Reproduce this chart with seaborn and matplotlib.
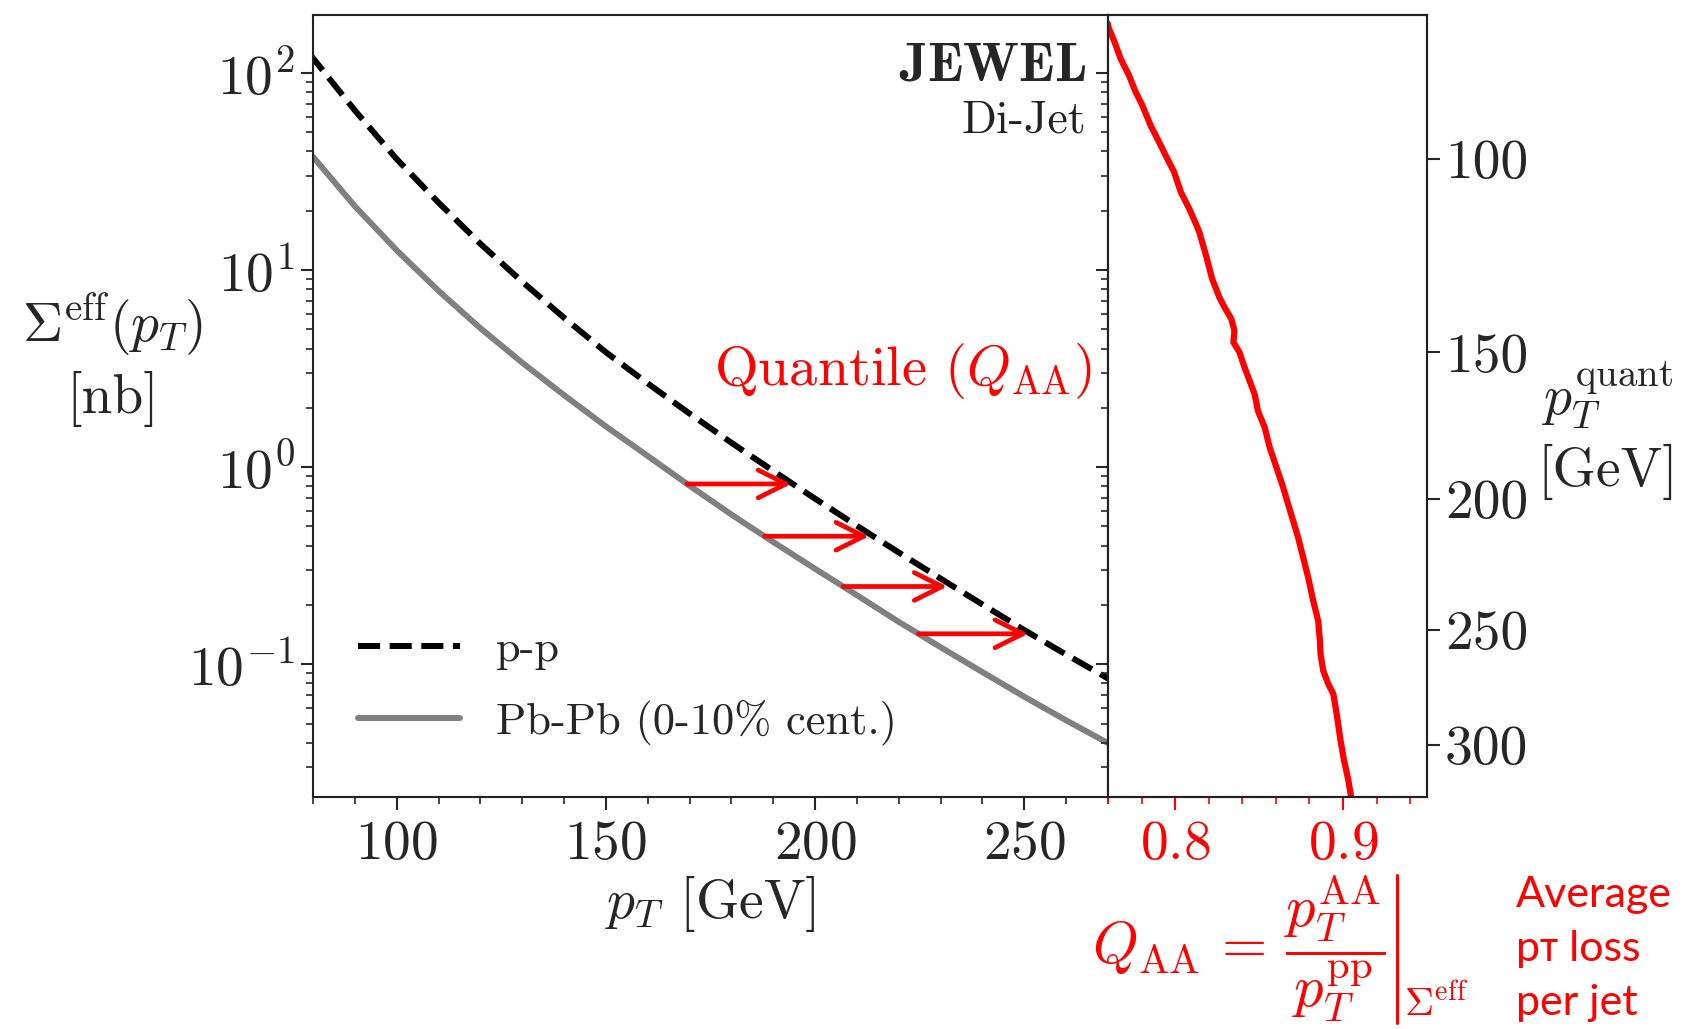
import numpy as np
import matplotlib
matplotlib.use("Agg")
import matplotlib.pyplot as plt
import seaborn as sns
from matplotlib.lines import Line2D
from matplotlib.ticker import MultipleLocator, NullLocator, FixedLocator

# effective cross section [nb] of the p-p curve (dashed)
pt_pp = [70, 80, 90, 100, 110, 120, 130, 140, 150, 160, 170, 180, 190,
         200, 210, 220, 230, 240, 250, 260, 270, 280, 290, 300, 310, 320, 330]
sigma_pp = [229, 119, 64.6, 36.6, 22.0, 13.6, 8.73, 5.73, 3.83, 2.66, 1.87,
            1.33, 0.957, 0.692, 0.504, 0.369, 0.272, 0.201, 0.149, 0.112,
            0.0847, 0.0646, 0.0499, 0.0389, 0.0305, 0.0242, 0.0192]

# Pb-Pb 0-10% (grey)
pt_pbpb = [80, 90, 100, 110, 120, 130, 140, 150, 160, 170, 180, 190, 200,
           210, 220, 230, 240, 250, 260, 270]
sigma_pbpb = [37.6, 21.1, 12.6, 7.85, 5.07, 3.39, 2.32, 1.61, 1.14, 0.805,
              0.575, 0.417, 0.305, 0.224, 0.164, 0.122, 0.0912, 0.0684,
              0.0519, 0.0398]

# quantile Q_AA vs pT^quant (red, right panel)
pt_quant = [73.8, 74.7, 76.8, 80.1, 83.3, 86.5, 89.0, 93.1, 96.5, 99.3,
            103.0, 107.6, 111.5, 115.2, 117.2, 123.1, 129.2, 134.3, 137.0,
            140.3, 143.7, 147.1, 150.0, 154.8, 159.1, 163.5, 169.1, 174.7,
            181.7, 188.7, 195.9, 201.9, 208.0, 214.3, 221.8, 229.5, 238.5,
            246.4, 254.3, 259.8, 266.8, 272.4, 276.7, 285.5, 296.4, 307.5,
            317.4, 325.8]
q_aa = [0.7598, 0.7605, 0.7635, 0.7675, 0.7725, 0.7765, 0.7804, 0.7854,
        0.7904, 0.7944, 0.7994, 0.8034, 0.8084, 0.8124, 0.8144, 0.8184,
        0.8220, 0.8263, 0.8293, 0.8334, 0.8353, 0.8347, 0.8383, 0.8413,
        0.8443, 0.8473, 0.8493, 0.8533, 0.8563, 0.8603, 0.8643, 0.8672,
        0.8702, 0.8732, 0.8762, 0.8792, 0.8822, 0.8852, 0.8862, 0.8866,
        0.8882, 0.8912, 0.8942, 0.8962, 0.8982, 0.9006, 0.9032, 0.9048]

# arrows from Pb-Pb to p-p at equal cross section
arrow_pt_aa = [169.4, 187.9, 206.7, 224.7]
arrow_pt_pp = [194.3, 212.9, 231.6, 250.9]

quant_ticks = [100, 150, 200, 250, 300]


def pp_sigma_at(pt):
    return 10 ** np.interp(pt, pt_pp, np.log10(sigma_pp))


def pbpb_sigma_at(pt):
    return 10 ** np.interp(pt, pt_pbpb, np.log10(sigma_pbpb))


sns.set_theme(style="ticks")
plt.rcParams.update({
    "font.family": "serif",
    "font.serif": ["cmr10"],
    "mathtext.fontset": "cm",
    "axes.formatter.use_mathtext": True,
    "axes.unicode_minus": False,
    "axes.linewidth": 1.5,
    "axes.edgecolor": "#222222",
    "xtick.major.width": 1.5,
    "ytick.major.width": 1.5,
    "xtick.minor.width": 1.2,
    "ytick.minor.width": 1.2,
})

W, H = 1686, 1029
fig = plt.figure(figsize=(W / 100, H / 100), dpi=100)

x0, x1, x2 = 313 / W, 1108 / W, 1427 / W
y0, y1 = 1 - 797 / H, 1 - 15 / H
ax1 = fig.add_axes([x0, y0, x1 - x0, y1 - y0])
ax2 = fig.add_axes([x1, y0, x2 - x1, y1 - y0], sharey=ax1)

ax1.set_yscale("log")
sns.lineplot(x=pt_pp, y=sigma_pp, ax=ax1, color="black", lw=4.3,
             linestyle="--", label="p-p")
sns.lineplot(x=pt_pbpb, y=sigma_pbpb, ax=ax1, color="grey", lw=4.3,
             label="Pb-Pb (0-10% cent.)")

for a, b in zip(arrow_pt_aa, arrow_pt_pp):
    yv = pbpb_sigma_at(a)
    ax1.annotate("", xy=(b, yv), xytext=(a, yv),
                 arrowprops=dict(arrowstyle="->", color="red", lw=3.4,
                                 mutation_scale=50, shrinkA=0, shrinkB=0))

ax1.set_xlim(80, 270)
ax1.set_ylim(0.0212, 197)
ax1.xaxis.set_major_locator(FixedLocator([100, 150, 200, 250]))
ax1.xaxis.set_minor_locator(MultipleLocator(10))
ax1.tick_params(axis="both", which="major", labelsize=40, length=9,
                direction="out", pad=4)
ax1.tick_params(axis="both", which="minor", length=5, direction="out")
ax1.tick_params(axis="x", pad=8)

ax1.set_xlabel(r"$p_T$ [GeV]", fontsize=40, labelpad=3)
ax1.set_ylabel("$\\Sigma^{\\rm eff}(p_T)$\n[nb]", fontsize=40, rotation=0,
               ha="center", va="center", linespacing=1.3)
ax1.yaxis.set_label_coords(-0.252, 0.56)

leg = ax1.legend(loc="lower left", bbox_to_anchor=(0.006, 0.015),
                 frameon=False, fontsize=32, handlelength=2.3,
                 handletextpad=0.8, labelspacing=0.66)

ax1.text(0.973, 0.934, r"$\mathbf{JEWEL}$", transform=ax1.transAxes,
         ha="right", va="center", fontsize=39)
ax1.text(0.973, 0.865, "Di-Jet", transform=ax1.transAxes, ha="right",
         va="center", fontsize=33, color="#222222")
ax1.text(0.98, 0.545, r"Quantile ($Q_{\rm AA}$)", transform=ax1.transAxes,
         ha="right", va="center", fontsize=40.5, color="red")

# right panel: Q_AA against pT^quant
sns.lineplot(x=q_aa, y=pp_sigma_at(pt_quant), ax=ax2, color="red", lw=4.5,
             sort=False, estimator=None)
ax2.set_xlim(0.76, 0.95)
ax2.xaxis.set_major_locator(FixedLocator([0.8, 0.9]))
ax2.xaxis.set_minor_locator(MultipleLocator(0.02))
ax2.tick_params(axis="x", which="both", colors="red", direction="out")
ax2.tick_params(axis="x", which="major", labelsize=40, length=9, pad=8)
ax2.tick_params(axis="x", which="minor", length=5)
ax2.tick_params(axis="y", which="both", left=True, labelleft=False,
                direction="out")
ax2.tick_params(axis="y", which="major", length=9)
ax2.tick_params(axis="y", which="minor", length=5)
ax2.spines["bottom"].set_color("#222222")

ax3 = ax2.twinx()
ax3.set_yscale("log")
ax3.set_ylim(ax1.get_ylim())
ax3.set_yticks(pp_sigma_at(quant_ticks), labels=[str(t) for t in quant_ticks])
ax3.yaxis.set_minor_locator(NullLocator())
ax3.tick_params(axis="y", which="major", labelsize=40, length=9, pad=4,
                direction="out")

fig.text(1608 / W, 1 - 430 / H, "$p_T^{\\rm quant}$\n[GeV]", fontsize=40,
         ha="center", va="center", linespacing=1.3)

# Q_AA definition below the right panel
fig.text(1386 / W, 1 - 949 / H,
         r"$Q_{\rm AA}\,=\,\dfrac{p_T^{\rm AA}}{p_T^{\rm pp}}$",
         fontsize=42, color="red", ha="right", va="center")
fig.add_artist(Line2D([1397 / W, 1397 / W], [1 - 875 / H, 1 - 1023 / H],
                      transform=fig.transFigure, color="red", lw=2.2))
fig.text(1404 / W, 1 - 1024 / H, r"$\Sigma^{\rm eff}$", fontsize=29,
         color="red", ha="left", va="bottom")

fig.text(1516 / W, 1 - 949 / H, "Average\npᴛ loss\nper jet", fontsize=31,
         color="red", ha="left", va="center", linespacing=1.52,
         family=["Lato", "DejaVu Sans"])

fig.savefig("out.png", dpi=100)
